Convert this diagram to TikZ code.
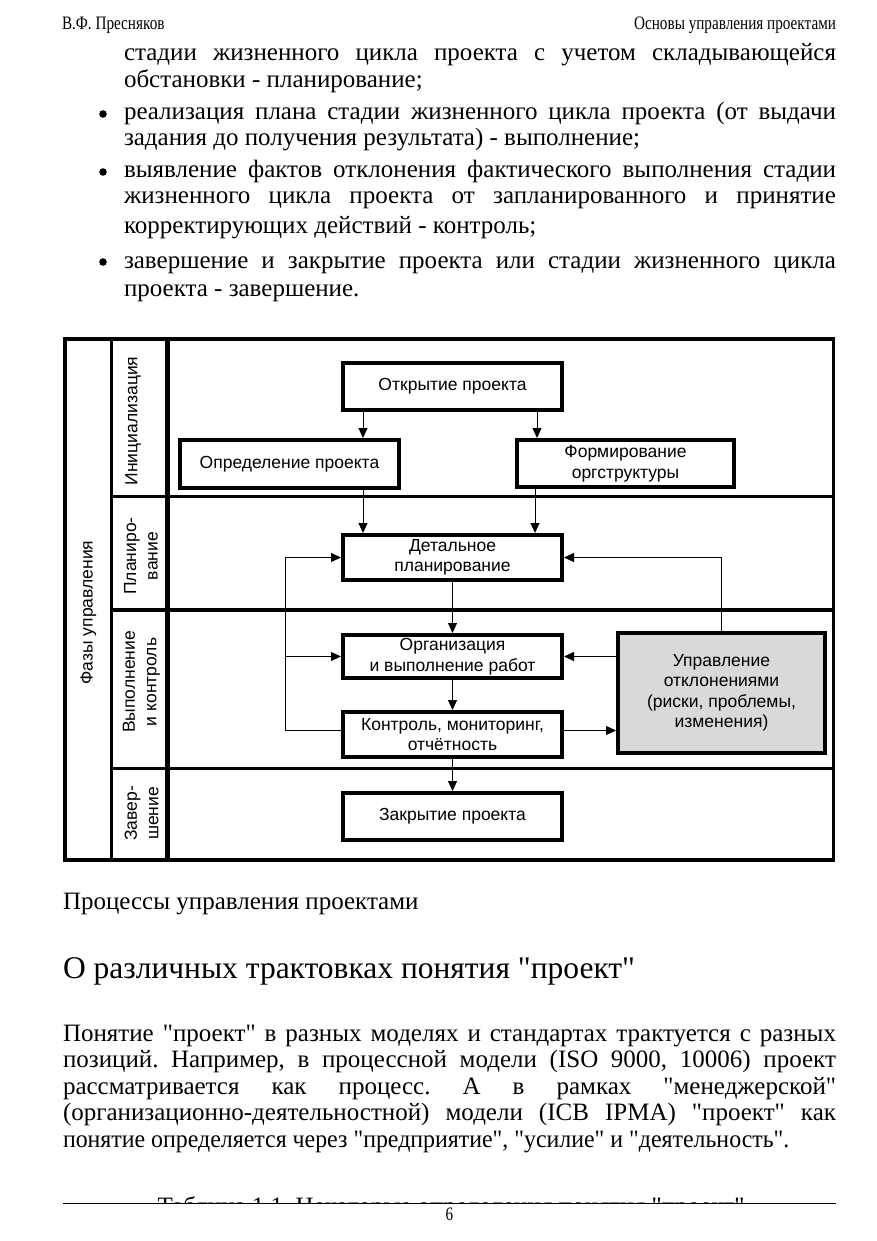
\documentclass[tikz,border=0pt]{standalone}
\usepackage{fontspec}
\setmainfont{Liberation Serif}[Ligatures=TeXOff]
\newfontfamily\dg{Liberation Sans}
\newfontfamily\hdr[FakeStretch=0.8]{Liberation Serif}
\usetikzlibrary{arrows.meta,calc}
\definecolor{devgray}{RGB}{217,217,217}
\begin{document}
\frenchspacing
\begin{tikzpicture}[x=1pt,y=-1pt,
  body/.style={anchor=base west,inner sep=0,outer sep=0,font=\fontsize{25}{28}\selectfont\frenchspacing},
  hdrtxt/.style={inner sep=0,outer sep=0,font=\hdr\fontsize{19}{21}\selectfont},
  box/.style={draw,line width=4pt,align=center,inner sep=0,font=\dg\fontsize{17.5}{20.5}\selectfont},
  lbl/.style={inner sep=0,align=center,font=\dg\fontsize{17.5}{21.5}\selectfont,rotate=90},
  arr/.style={line width=1pt,-{Triangle[length=10pt,width=9pt]}},
  bul/.style={fill=black}
]
\useasboundingbox (0,0) rectangle (877,1241);
\fill[white] (0,0) rectangle (877,1241);

% header
\node[hdrtxt,anchor=base west] (h1) at (62,30) {В.Ф. Пресняков};
\node[hdrtxt,anchor=base east] (h2) at (836,30) {Основы управления проектами};

% bullet list
\node[body] (t1) at (124,61) {\makebox[712pt][s]{стадии жизненного цикла проекта с учетом складывающейся}};
\node[body] (t2) at (124,87.5) {обстановки - планирование;};
\node[body] (t3) at (124,120) {\makebox[712pt][s]{реализация плана стадии жизненного цикла проекта (от выдачи}};
\node[body] (t4) at (124,146) {задания до получения результата) - выполнение;};
\node[body] (t5) at (124,178) {\makebox[712pt][s]{выявление фактов отклонения фактического выполнения стадии}};
\node[body] (t6) at (124,204) {\makebox[712pt][s]{жизненного цикла проекта от запланированного и принятие}};
\node[body] (t7) at (124,234) {корректирующих действий - контроль;};
\node[body] (t8) at (124,268) {\makebox[712pt][s]{завершение и закрытие проекта или стадии жизненного цикла}};
\node[body] (t9) at (124,296) {проекта - завершение.};
\fill[bul] (103,114) circle (3.8);
\fill[bul] (103,172) circle (3.8);
\fill[bul] (103,262) circle (3.8);

% diagram frame
\draw[line width=3.5pt] (65,339) rectangle (833.5,860);
\draw[line width=3pt] (111.5,339) -- (111.5,860);
\draw[line width=4.5pt] (167.5,339) -- (167.5,860);
\draw[line width=3.5pt] (111.5,496.5) -- (833.5,496.5);
\draw[line width=3.5pt] (111.5,610) -- (833.5,610);
\draw[line width=3.5pt] (111.5,768.5) -- (833.5,768.5);

% labels
\node[lbl] (phases) at (88.5,612.5) {Фазы управления};
\node[lbl] (p1) at (133,421) {Инициализация};
\node[lbl] (p2) at (141,556) {Планиро-\\вание};
\node[lbl] (p3) at (141.5,682) {Выполнение\\и контроль};
\node[lbl] (p4) at (141.5,813.5) {Завер-\\шение};

% boxes
\node[box,minimum width=219pt,minimum height=47pt] (open) at (452.5,386.5) {Открытие проекта};
\node[box,minimum width=219pt,minimum height=48pt] (def) at (289.5,464) {Определение проекта};
\node[box,minimum width=217pt,minimum height=47pt] (form) at (625.5,463.5) {Формирование\\оргструктуры};
\node[box,minimum width=219pt,minimum height=45pt] (det) at (452.5,557.5) {Детальное\\планирование};
\node[box,minimum width=219pt,minimum height=43pt] (exec) at (452.5,656.5) {Организация\\и выполнение работ};
\node[box,minimum width=219pt,minimum height=45pt] (ctrl) at (452.5,734.5) {Контроль, мониторинг,\\отчётность};
\node[box,minimum width=219pt,minimum height=47pt] (close) at (452.5,816.5) {Закрытие проекта};
\node[box,fill=devgray,minimum width=207pt,minimum height=120pt] (dev) at (721.5,693) {Управление\\отклонениями\\(риски, проблемы,\\изменения)};

% connector coordinates
\coordinate (xA) at (363,0);
\coordinate (xB) at (537,0);
\coordinate (xC) at (535,0);
\coordinate (xL) at (285,0);

\draw[arr] (open.south -| xA) -- (def.north -| xA);
\draw[arr] (open.south -| xB) -- (form.north -| xB);
\draw[arr] (def.south -| xA) -- (det.north -| xA);
\draw[arr] (form.south -| xC) -- (det.north -| xC);
\draw[arr] (det.south) -- (exec.north);
\draw[arr] (exec.south) -- (ctrl.north);
\draw[arr] (ctrl.south) -- (close.north);
\draw[arr] ([yshift=4pt]ctrl.west) -| (xL |- det.west) -- (det.west);
\draw[arr] (xL |- exec.west) -- (exec.west);
\draw[arr] (dev.west |- exec.east) -- (exec.east);
\draw[arr] ([yshift=4pt]ctrl.east) -- ([yshift=4pt]ctrl.east -| dev.west);
\draw[arr] (dev.north) |- (det.east);

% caption and heading
\node[body] (cap) at (63,909) {Процессы управления проектами};
\node[body,font=\fontsize{31.5}{35}\selectfont] (head) at (63,978) {О различных трактовках понятия "проект"};

% paragraph
\node[body] (q1) at (63,1041) {\makebox[773pt][s]{Понятие "проект" в разных моделях и стандартах трактуется с разных}};
\node[body] (q2) at (63,1067.5) {\makebox[773pt][s]{позиций. Например, в процессной модели (ISO 9000, 10006) проект}};
\node[body] (q3) at (63,1094) {\makebox[773pt][s]{рассматривается как процесс. А в рамках "менеджерской"}};
\node[body] (q4) at (63,1120.5) {\makebox[773pt][s]{(организационно-деятельностной) модели (ICB IPMA) "проект" как}};
\node[body] (q5) at (63,1147) {\scalebox{0.955}[1]{понятие определяется через "предприятие", "усилие" и "деятельность".}};

% clipped next line
\begin{scope}
\clip (0,1150) rectangle (877,1202.5);
\node[body,anchor=base] (tab) at (451,1214.5) {Таблица 1.1. Некоторые определения понятия "проект"};
\end{scope}

% footer
\draw[line width=1pt] (63,1203) -- (836,1203);
\node[hdrtxt,anchor=base] (pg) at (449.5,1220) {6};
\end{tikzpicture}
\end{document}
